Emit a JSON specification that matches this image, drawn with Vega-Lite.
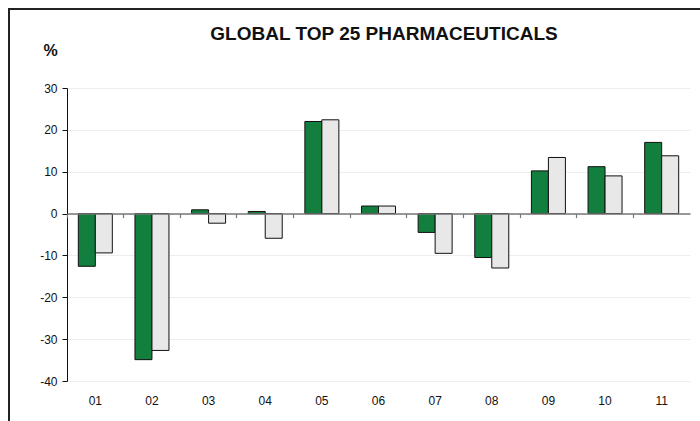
{
  "$schema": "https://vega.github.io/schema/vega-lite/v6.json",
  "autosize": {"type": "none"},
  "width": 700,
  "height": 420,
  "padding": {"left": 9, "top": 9, "right": -9, "bottom": -8},
  "background": "white",
  "title": {
    "text": "GLOBAL TOP 25 PHARMACEUTICALS",
    "anchor": "middle",
    "font": "Liberation Sans",
    "fontSize": 19,
    "fontWeight": "bold",
    "color": "#111111",
    "offset": -50,
    "baseline": "alphabetic",
    "dx": 25
  },
  "config": {
    "view": {"stroke": "#222222", "strokeWidth": 2},
    "axis": {"labelFont": "Liberation Sans", "titleFont": "Liberation Sans", "labelColor": "#111111"}
  },
  "data": {
    "values": [
      {"cat": "01", "series": "A", "value": -12.6},
      {"cat": "01", "series": "B", "value": -9.4},
      {"cat": "02", "series": "A", "value": -34.9},
      {"cat": "02", "series": "B", "value": -32.7},
      {"cat": "03", "series": "A", "value": 0.9},
      {"cat": "03", "series": "B", "value": -2.3},
      {"cat": "04", "series": "A", "value": 0.5},
      {"cat": "04", "series": "B", "value": -5.9},
      {"cat": "05", "series": "A", "value": 22.0},
      {"cat": "05", "series": "B", "value": 22.4},
      {"cat": "06", "series": "A", "value": 1.8},
      {"cat": "06", "series": "B", "value": 1.8},
      {"cat": "07", "series": "A", "value": -4.5},
      {"cat": "07", "series": "B", "value": -9.5},
      {"cat": "08", "series": "A", "value": -10.5},
      {"cat": "08", "series": "B", "value": -13.0},
      {"cat": "09", "series": "A", "value": 10.2},
      {"cat": "09", "series": "B", "value": 13.4},
      {"cat": "10", "series": "A", "value": 11.2},
      {"cat": "10", "series": "B", "value": 9.0},
      {"cat": "11", "series": "A", "value": 17.0},
      {"cat": "11", "series": "B", "value": 13.8}
    ]
  },
  "encoding": {
    "y": {
      "field": "value",
      "type": "quantitative",
      "scale": {"domain": [-40, 30], "range": [372, 79], "nice": false, "zero": false},
      "axis": {
        "orient": "left",
        "offset": -58,
        "values": [-40, -30, -20, -10, 0, 10, 20, 30],
        "labelExpr": "datum.value < 0 ? '-' + abs(datum.value) : '' + datum.value",
        "grid": true,
        "gridColor": "#eeeeee",
        "gridWidth": 1,
        "domainColor": "#111111",
        "domainWidth": 1,
        "tickColor": "#111111",
        "tickSize": 5,
        "labelPadding": 5,
        "labelFontSize": 12,
        "title": "%",
        "titleAngle": 0,
        "titleFontSize": 16,
        "titleFontWeight": "bold",
        "titleColor": "#111111",
        "titleAlign": "center",
        "titleBaseline": "middle",
        "titleX": -17,
        "titleY": 41
      }
    }
  },
  "layer": [
    {
      "mark": {"type": "bar", "stroke": "#111111", "strokeWidth": 1},
      "encoding": {
        "x": {
          "field": "cat",
          "type": "nominal",
          "scale": {"range": [58, 681], "paddingInner": 0, "paddingOuter": 0},
          "axis": {
            "orient": "bottom",
            "offset": -48,
            "domain": false,
            "ticks": false,
            "grid": false,
            "labelAngle": 0,
            "labelFontSize": 12,
            "labelPadding": 14,
            "title": null
          }
        },
        "xOffset": {
          "field": "series",
          "type": "nominal",
          "scale": {"paddingOuter": 0.6658, "paddingInner": 0}
        },
        "color": {
          "field": "series",
          "type": "nominal",
          "scale": {"domain": ["A", "B"], "range": ["#137f3e", "#e8e8e8"]},
          "legend": null
        }
      }
    },
    {
      "mark": {"type": "point", "opacity": 0},
      "encoding": {
        "x": {
          "field": "cat",
          "type": "nominal",
          "scale": {"range": [58, 681], "paddingInner": 0, "paddingOuter": 0},
          "axis": {
            "orient": "bottom",
            "offset": -215.4,
            "domain": true,
            "domainColor": "#777777",
            "domainWidth": 1.5,
            "ticks": true,
            "tickColor": "#777777",
            "tickSize": 4,
            "tickWidth": 1.2,
            "bandPosition": 0,
            "labels": false,
            "grid": false,
            "title": null,
            "zindex": 2
          }
        }
      }
    }
  ],
  "resolve": {"axis": {"x": "independent"}}
}
